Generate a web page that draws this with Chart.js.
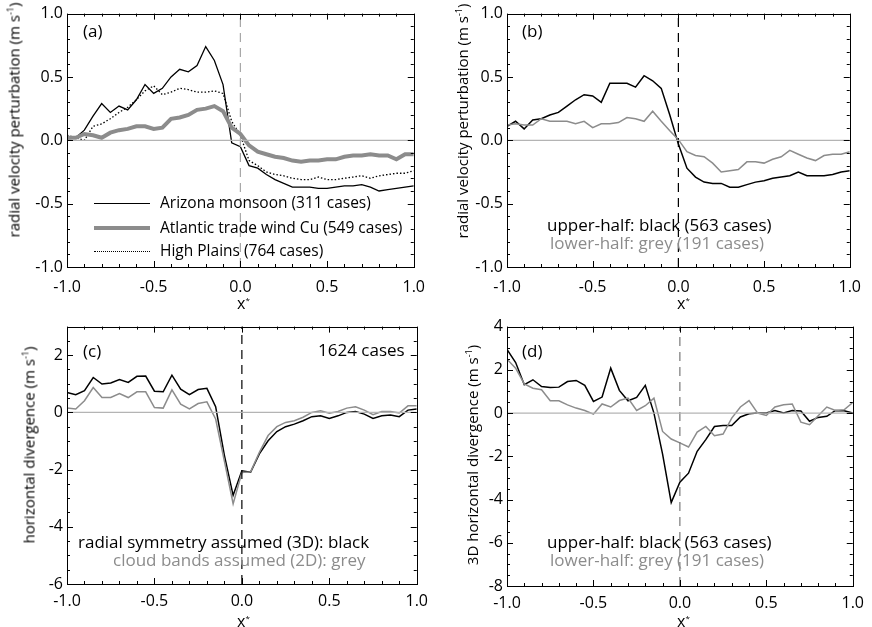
<!DOCTYPE html>
<html>
<head>
<meta charset="utf-8">
<script src="https://cdn.jsdelivr.net/npm/chart.js@4.4.1/dist/chart.umd.min.js"></script>
<style>
  body { margin: 0; background: #fff; }
  #fig { position: relative; width: 872px; height: 627px; font-family: 'Open Sans', sans-serif; font-size: 15px; color: #000; overflow: hidden; }
  #fig canvas { position: absolute; }
  .txt { position: absolute; white-space: nowrap; line-height: 18px; }
  .note { font-size: 17px; line-height: 20px; }
  .grey { color: #8c8c8c; }
  .ytitle { position: absolute; white-space: nowrap; line-height: 18px; transform: translate(-50%, -50%) rotate(-90deg); }
  .key { position: absolute; width: 56px; height: 0; }
</style>
</head>
<body>
<div id="fig">
  <canvas id="pa" width="436" height="313" style="left:0;top:0"></canvas>
  <canvas id="pb" width="436" height="313" style="left:436px;top:0"></canvas>
  <canvas id="pc" width="436" height="314" style="left:0;top:313px"></canvas>
  <canvas id="pd" width="436" height="314" style="left:436px;top:313px"></canvas>

  <div class="ytitle" style="left:12px;top:120px">radial velocity perturbation (m s<sup style="font-size:9px">-1</sup>)</div>
  <div class="ytitle" style="left:460px;top:121px">radial velocity perturbation (m s<sup style="font-size:9px">-1</sup>)</div>
  <div class="ytitle" style="left:27px;top:445px">horizontal divergence (m s<sup style="font-size:9px">-1</sup>)</div>
  <div class="ytitle" style="left:470px;top:455px">3D horizontal divergence (m s<sup style="font-size:9px">-1</sup>)</div>

  <div class="txt" style="left:237px;top:291px;font-size:16px">x<sup style="font-size:8px">*</sup></div>
  <div class="txt" style="left:677px;top:291px;font-size:16px">x<sup style="font-size:8px">*</sup></div>
  <div class="txt" style="left:237px;top:609px;font-size:16px">x<sup style="font-size:8px">*</sup></div>
  <div class="txt" style="left:677px;top:609px;font-size:16px">x<sup style="font-size:8px">*</sup></div>

  <div class="txt note" style="left:83px;top:21px">(a)</div>
  <div class="txt note" style="left:522px;top:21px">(b)</div>
  <div class="txt note" style="left:83px;top:341px">(c)</div>
  <div class="txt note" style="left:522px;top:341px">(d)</div>

  <div id="legend"></div>

  <div class="txt note" style="left:547px;top:215px">upper-half: black (563 cases)</div>
  <div class="txt note grey" style="left:550px;top:233px">lower-half: grey (191 cases)</div>

  <div class="txt note" style="left:318px;top:340px">1624 cases</div>
  <div class="txt note" style="left:78px;top:532px">radial symmetry assumed (3D): black</div>
  <div class="txt note grey" style="left:113px;top:550px">cloud bands assumed (2D): grey</div>

  <div class="txt note" style="left:547px;top:532px">upper-half: black (563 cases)</div>
  <div class="txt note grey" style="left:550px;top:550px">lower-half: grey (191 cases)</div>
</div>

<script>
// normalised distance across the cloud, x*
const xStar = [-1.0, -0.95, -0.9, -0.85, -0.8, -0.75, -0.7, -0.65, -0.6, -0.55,
  -0.5, -0.45, -0.4, -0.35, -0.3, -0.25, -0.2, -0.15, -0.1, -0.05,
  0.0, 0.05, 0.1, 0.15, 0.2, 0.25, 0.3, 0.35, 0.4, 0.45,
  0.5, 0.55, 0.6, 0.65, 0.7, 0.75, 0.8, 0.85, 0.9, 0.95, 1.0];

// (a) radial velocity perturbation by campaign
const campaigns = ['Arizona monsoon (311 cases)', 'Atlantic trade wind Cu (549 cases)', 'High Plains (764 cases)'];
const arizona = [0.01, 0.02, 0.08, 0.19, 0.29, 0.22, 0.27, 0.24, 0.32, 0.44,
  0.37, 0.41, 0.50, 0.56, 0.54, 0.59, 0.74, 0.63, 0.44, -0.02,
  -0.05, -0.20, -0.22, -0.27, -0.31, -0.34, -0.37, -0.37, -0.37, -0.38,
  -0.38, -0.37, -0.36, -0.36, -0.35, -0.37, -0.40, -0.39, -0.38, -0.37, -0.36];
const atlantic = [0.02, 0.02, 0.05, 0.04, 0.02, 0.06, 0.08, 0.09, 0.11, 0.11,
  0.09, 0.10, 0.17, 0.18, 0.20, 0.24, 0.25, 0.27, 0.23, 0.10,
  0.05, -0.04, -0.09, -0.11, -0.13, -0.14, -0.16, -0.17, -0.16, -0.16,
  -0.15, -0.15, -0.13, -0.12, -0.12, -0.11, -0.12, -0.12, -0.15, -0.11, -0.11];
const highPlains = [0.04, 0.02, 0.00, 0.11, 0.13, 0.17, 0.22, 0.26, 0.32, 0.39,
  0.43, 0.36, 0.38, 0.41, 0.40, 0.38, 0.38, 0.39, 0.37, 0.15,
  0.04, -0.16, -0.20, -0.25, -0.27, -0.28, -0.30, -0.31, -0.31, -0.29,
  -0.31, -0.31, -0.30, -0.29, -0.28, -0.30, -0.28, -0.27, -0.26, -0.26, -0.24];

// (b) radial velocity perturbation, upper and lower halves
const upperVel = [0.11, 0.15, 0.09, 0.16, 0.17, 0.20, 0.22, 0.27, 0.32, 0.36,
  0.35, 0.30, 0.45, 0.45, 0.45, 0.42, 0.51, 0.47, 0.41, 0.20,
  -0.03, -0.22, -0.29, -0.33, -0.34, -0.34, -0.37, -0.37, -0.35, -0.33,
  -0.32, -0.30, -0.29, -0.28, -0.25, -0.28, -0.28, -0.28, -0.27, -0.25, -0.24];
const lowerVel = [0.12, 0.13, 0.12, 0.12, 0.17, 0.15, 0.15, 0.15, 0.13, 0.15,
  0.10, 0.13, 0.13, 0.14, 0.18, 0.17, 0.15, 0.23, 0.15, 0.075,
  0.005, -0.09, -0.12, -0.13, -0.18, -0.25, -0.24, -0.23, -0.17, -0.17,
  -0.18, -0.15, -0.13, -0.08, -0.11, -0.14, -0.16, -0.12, -0.11, -0.11, -0.09];

// (c) horizontal divergence, 3D vs 2D assumption
const div3D = [0.70, 0.62, 0.76, 1.22, 0.99, 1.03, 1.15, 1.05, 1.26, 1.27,
  0.74, 0.72, 1.30, 0.81, 0.62, 0.80, 0.84, 0.20, -1.50, -2.90,
  -2.04, -2.09, -1.45, -0.99, -0.67, -0.50, -0.41, -0.29, -0.15, -0.12,
  -0.21, -0.12, 0.00, 0.03, -0.06, -0.21, -0.12, -0.09, -0.15, 0.08, 0.12];
const div2D = [0.15, 0.12, 0.41, 0.87, 0.52, 0.52, 0.66, 0.52, 0.72, 0.72,
  0.17, 0.15, 0.79, 0.29, 0.12, 0.31, 0.37, -0.23, -1.70, -3.20,
  -2.10, -2.08, -1.40, -0.81, -0.50, -0.35, -0.29, -0.17, 0.00, 0.06,
  -0.03, 0.03, 0.15, 0.20, 0.08, -0.08, 0.03, 0.03, -0.02, 0.23, 0.23];

// (d) 3D horizontal divergence, upper and lower halves
const upperDiv = [2.95, 2.34, 1.31, 1.54, 1.23, 1.18, 1.20, 1.46, 1.51, 1.28,
  0.54, 0.74, 2.08, 1.05, 0.57, 0.72, 1.28, 0.00, -1.90, -4.14,
  -3.20, -2.78, -1.77, -1.23, -0.62, -0.58, -0.58, -0.18, -0.03, 0.00,
  0.00, 0.12, 0.00, 0.12, 0.10, -0.38, -0.20, -0.15, 0.12, 0.11, 0.00];
const lowerDiv = [2.49, 2.08, 1.35, 1.15, 1.08, 0.57, 0.57, 0.38, 0.23, 0.12,
  -0.05, 0.42, 0.28, 0.58, 0.69, 0.12, 0.34, 0.69, -0.85, -1.20,
  -1.38, -1.57, -0.88, -0.62, -1.05, -0.97, -0.23, 0.28, 0.58, 0.00,
  -0.11, 0.28, 0.38, 0.42, -0.42, -0.54, -0.12, 0.28, 0.12, 0.15, 0.49];

const xTicks = [-1.0, -0.5, 0.0, 0.5, 1.0];
const velTicks = [-1.0, -0.5, 0.0, 0.5, 1.0];
const divTicks = [-6, -4, -2, 0, 2];
const div3DTicks = [-8, -6, -4, -2, 0, 2, 4];

const BLACK = '#000000';
const GREY = '#8c8c8c';
const FONT = { family: "'Open Sans', sans-serif", size: 16 };

const pts = ys => ys.map((y, i) => ({ x: xStar[i], y: y }));

// inward ticks on all four sides plus the box
const frame = {
  id: 'frame',
  afterDatasetsDraw(chart, args, o) {
    const { ctx, chartArea: a, scales: { x, y } } = chart;
    ctx.save();
    ctx.strokeStyle = '#000';
    ctx.lineWidth = 1;
    ctx.beginPath();
    const hTick = (v, len) => {
      const px = Math.round(x.getPixelForValue(v)) + 0.5;
      ctx.moveTo(px, a.bottom); ctx.lineTo(px, a.bottom - len);
      ctx.moveTo(px, a.top); ctx.lineTo(px, a.top + len);
    };
    const vTick = (v, len) => {
      const py = Math.round(y.getPixelForValue(v)) + 0.5;
      ctx.moveTo(a.left, py); ctx.lineTo(a.left + len, py);
      ctx.moveTo(a.right, py); ctx.lineTo(a.right - len, py);
    };
    for (let k = 0; k <= 20; k++) hTick(-1 + k * 0.1, k % 5 === 0 ? 6 : 3);
    const n = Math.round((y.max - y.min) / o.yMinor);
    for (let k = 0; k <= n; k++) {
      const v = y.min + k * o.yMinor;
      vTick(v, o.yMajor.some(t => Math.abs(t - v) < 1e-6) ? 6 : 3);
    }
    ctx.stroke();
    ctx.strokeRect(Math.round(a.left) + 0.5, Math.round(a.top) + 0.5,
      Math.round(a.right - a.left), Math.round(a.bottom - a.top));
    ctx.restore();
  }
};

function guides(ymin, ymax, dashColor) {
  return [
    { data: [{ x: -1, y: 0 }, { x: 1, y: 0 }], borderColor: '#b4b4b4', borderWidth: 1.2 },
    { data: [{ x: 0, y: ymin }, { x: 0, y: ymax }], borderColor: dashColor, borderWidth: 1.2, borderDash: [9, 6] }
  ];
}

function panel(id, p) {
  return new Chart(document.getElementById(id), {
    type: 'line',
    data: { datasets: guides(p.ymin, p.ymax, p.dash).concat(p.series) },
    options: {
      responsive: false,
      animation: false,
      devicePixelRatio: 1,
      layout: { padding: { top: p.padTop, right: p.padRight, left: 0, bottom: 0 } },
      elements: { point: { radius: 0 }, line: { tension: 0, borderCapStyle: 'butt', borderJoinStyle: 'miter' } },
      plugins: { legend: { display: false }, tooltip: { enabled: false }, frame: { yMinor: p.yMinor, yMajor: p.yTicks } },
      scales: {
        x: {
          type: 'linear', min: -1, max: 1,
          afterBuildTicks: s => { s.ticks = xTicks.map(v => ({ value: v })); },
          afterFit: s => { s.height = p.xH; },
          ticks: { callback: v => v.toFixed(1), font: FONT, color: '#000', padding: p.xPad, maxRotation: 0, autoSkip: false },
          grid: { display: false, drawTicks: false },
          border: { display: false }
        },
        y: {
          type: 'linear', min: p.ymin, max: p.ymax,
          afterBuildTicks: s => { s.ticks = p.yTicks.map(v => ({ value: v })); },
          afterFit: s => { s.width = p.yW; },
          ticks: { callback: p.fmt, font: FONT, color: '#000', padding: 4, autoSkip: false },
          grid: { display: false, drawTicks: false },
          border: { display: false }
        }
      }
    },
    plugins: [frame]
  });
}

const fmt1 = v => v.toFixed(1);
const fmt0 = v => String(v);

panel('pa', {
  ymin: -1, ymax: 1, yTicks: velTicks, yMinor: 0.1, fmt: fmt1, dash: '#a8a8a8',
  padTop: 10, padRight: 17, yW: 67, xH: 46, xPad: 11,
  series: [
    { data: pts(atlantic), borderColor: GREY, borderWidth: 4 },
    { data: pts(highPlains), borderColor: BLACK, borderWidth: 1.3, borderDash: [1.5, 2] },
    { data: pts(arizona), borderColor: BLACK, borderWidth: 1.3 }
  ]
});

panel('pb', {
  ymin: -1, ymax: 1, yTicks: velTicks, yMinor: 0.1, fmt: fmt1, dash: '#000',
  padTop: 10, padRight: 13, yW: 71, xH: 46, xPad: 11,
  series: [
    { data: pts(lowerVel), borderColor: GREY, borderWidth: 1.5 },
    { data: pts(upperVel), borderColor: BLACK, borderWidth: 1.5 }
  ]
});

panel('pc', {
  ymin: -6, ymax: 3, yTicks: divTicks, yMinor: 0.5, fmt: fmt0, dash: '#000',
  padTop: 13, padRight: 17, yW: 67, xH: 43, xPad: 8,
  series: [
    { data: pts(div2D), borderColor: GREY, borderWidth: 1.5 },
    { data: pts(div3D), borderColor: BLACK, borderWidth: 1.5 }
  ]
});

panel('pd', {
  ymin: -8, ymax: 4, yTicks: div3DTicks, yMinor: 0.5, fmt: fmt0, dash: '#777',
  padTop: 13, padRight: 13, yW: 71, xH: 41, xPad: 8,
  series: [
    { data: pts(lowerDiv), borderColor: GREY, borderWidth: 1.5 },
    { data: pts(upperDiv), borderColor: BLACK, borderWidth: 1.5 }
  ]
});

// legend for panel (a), built from the campaign names
const keyStyles = ['border-top:1.3px solid #000', 'border-top:4px solid ' + GREY, 'border-top:1.5px dotted #000'];
const keyRows = [203, 228, 251];
const legend = document.getElementById('legend');
campaigns.forEach((name, i) => {
  const k = document.createElement('div');
  k.className = 'key';
  k.style.cssText = 'left:94px;top:' + (keyRows[i] - (i === 1 ? 2 : 0)) + 'px;' + keyStyles[i];
  legend.appendChild(k);
  const t = document.createElement('div');
  t.className = 'txt';
  t.style.cssText = 'left:160px;top:' + (keyRows[i] - 10) + 'px;font-size:15.5px';
  t.textContent = name;
  legend.appendChild(t);
});
</script>
</body>
</html>
